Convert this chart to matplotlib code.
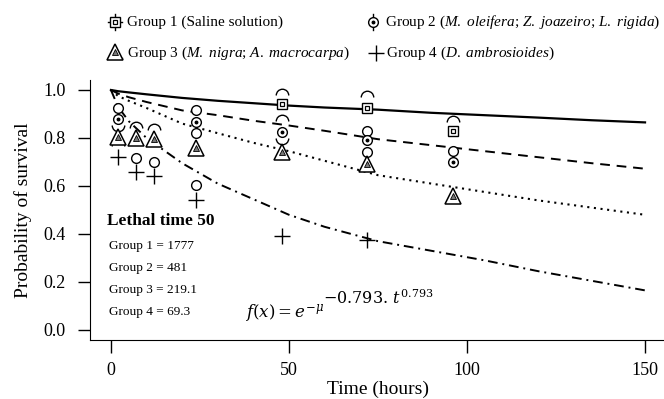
import matplotlib
matplotlib.use("Agg")
import matplotlib.pyplot as plt
from matplotlib.path import Path

plt.rcParams['font.family'] = 'serif'
plt.rcParams['font.serif'] = ['Liberation Serif', 'DejaVu Serif']
plt.rcParams['mathtext.fontset'] = 'custom'
plt.rcParams['mathtext.rm'] = 'Liberation Serif'
plt.rcParams['mathtext.it'] = 'Liberation Serif:italic'

# fitted survival curves
curve_t = [0, 2, 5, 10, 20, 30, 40, 50, 60, 75, 90, 105, 120, 135, 150]
curve_g1 = [1.0, 0.995, 0.99, 0.982, 0.967, 0.955, 0.945, 0.935, 0.927, 0.918, 0.905, 0.895, 0.885, 0.874, 0.865]
curve_g2 = [1.0, 0.985, 0.97, 0.95, 0.915, 0.895, 0.872, 0.852, 0.83, 0.795, 0.77, 0.745, 0.72, 0.695, 0.672]
curve_g3 = [1.0, 0.975, 0.955, 0.925, 0.86, 0.82, 0.78, 0.745, 0.705, 0.645, 0.61, 0.575, 0.54, 0.51, 0.48]
curve_g4 = [1.0, 0.93, 0.87, 0.80, 0.695, 0.61, 0.545, 0.48, 0.43, 0.37, 0.33, 0.29, 0.245, 0.205, 0.165]

# observed points
g1_t = [48, 72, 96]
g1_s = [0.94, 0.925, 0.83]
g2_t = [2, 24, 48, 72, 96]
g2_s = [0.88, 0.867, 0.825, 0.79, 0.70]
g3_t = [2, 7, 12, 24, 48, 72, 96]
g3_s = [0.805, 0.80, 0.795, 0.76, 0.74, 0.69, 0.56]
g4_t = [2, 7, 12, 24, 48, 72]
g4_s = [0.72, 0.66, 0.64, 0.54, 0.39, 0.375]

# extra open circles / half circles in the figure
circ_t = [2, 7, 12, 24, 24, 24, 72, 72, 96]
circ_s = [0.925, 0.715, 0.70, 0.915, 0.82, 0.605, 0.83, 0.74, 0.745]
top_arc_t = [2, 7, 12, 48, 48, 72, 96]
top_arc_s = [0.765, 0.84, 0.835, 0.98, 0.87, 0.97, 0.865]
bot_arc_t = [2, 48]
bot_arc_s = [0.855, 0.80]

lt50_labels = ['Group 1 = 1777', 'Group 2 = 481', 'Group 3 = 219.1', 'Group 4 = 69.3']
legend_labels = [
    'Group 1 (Saline solution)',
    r'Group 2 ($\mathit{M.\ oleifera}$; $\mathit{Z.\ joazeiro}$; $\mathit{L.\ rigida}$)',
    r'Group 3 ($\mathit{M.\ nigra}$; $\mathit{A.\ macrocarpa}$)',
    r'Group 4 ($\mathit{D.\ ambrosioides}$)',
]

top_arc = Path.arc(0, 180)
bot_arc = Path.arc(180, 360)


def draw_g1(ax, x, y):
    ax.plot(x, y, 's', ms=7, mfc='white', mec='black', mew=1, ls='none', zorder=4)
    ax.plot(x, y, 's', ms=2.5, mfc='none', mec='black', mew=0.9, ls='none', zorder=5)


def draw_g2(ax, x, y):
    ax.plot(x, y, 'o', ms=7, mfc='white', mec='black', mew=1, ls='none', zorder=4)
    ax.plot(x, y, 'o', ms=1.8, mfc='black', mec='black', ls='none', zorder=5)


def draw_g3(ax, x, y):
    ax.plot(x, y, '^', ms=11, mfc='white', mec='black', mew=1.1, ls='none', zorder=4)
    ax.plot(x, y, '^', ms=4, mfc='#777777', mec='black', mew=0.6, ls='none', zorder=5)


def draw_g4(ax, x, y):
    ax.plot(x, y, '+', ms=12, mec='black', mew=1, ls='none', zorder=4)


fig = plt.figure(figsize=(6.64, 3.99), dpi=100)
ax = fig.add_axes([0.1349, 0.1489, 0.8687, 0.6496])

ax.plot(curve_t, curve_g1, color='black', lw=1.6, ls='-')
ax.plot(curve_t, curve_g2, color='black', lw=1.4, ls=(0, (5, 3.5)))
ax.plot(curve_t, curve_g3, color='black', lw=1.5, ls=(0, (1, 2.2)))
ax.plot(curve_t, curve_g4, color='black', lw=1.4, ls=(0, (5, 2.5, 1, 2.5)))

ax.plot(circ_t, circ_s, 'o', ms=7, mfc='white', mec='black', mew=1, ls='none', zorder=3)
ax.plot(top_arc_t, top_arc_s, marker=top_arc, ms=9, mfc='none', mec='black', mew=1, ls='none', zorder=3)
ax.plot(bot_arc_t, bot_arc_s, marker=bot_arc, ms=9, mfc='none', mec='black', mew=1, ls='none', zorder=3)

draw_g1(ax, g1_t, g1_s)
draw_g2(ax, g2_t, g2_s)
draw_g3(ax, g3_t, g3_s)
draw_g4(ax, g4_t, g4_s)

ax.set_xlim(-6, 156)
ax.set_ylim(-0.04, 1.04)
ax.set_xticks([0, 50, 100, 150])
ax.set_yticks([0.0, 0.2, 0.4, 0.6, 0.8, 1.0])
ax.set_yticklabels(['0.0', '0.2', '0.4', '0.6', '0.8', '1.0'])
ax.spines['top'].set_visible(False)
ax.spines['right'].set_visible(False)
ax.tick_params(axis='both', direction='out', length=9, width=1, labelsize=13, pad=7)
ax.tick_params(axis='y', pad=8)
ax.set_xlabel('Time (hours)', fontsize=14, labelpad=1)
ax.set_ylabel('Probability of survival', fontsize=14, labelpad=8)

# lethal time box
ax.text(-1.1, 0.455, 'Lethal time 50', fontsize=12.5, fontweight='bold', va='center', ha='left')
for i, lab in enumerate(lt50_labels):
    ax.text(-0.6, 0.35 - i * 0.092, lab, fontsize=9.5, va='center', ha='left')

ax.text(37.6, 0.05, r'$f(x) = e^{-\mu}$', fontsize=12, math_fontfamily='dejavuserif',
        va='baseline', ha='left')
ax.text(59.5, 0.108, r'$-0.793.\,t^{0.793}$', fontsize=11.5, math_fontfamily='dejavuserif',
        va='baseline', ha='left')

# legend drawn in pixel coordinates of the figure
lg = fig.add_axes([0, 0, 1, 1], facecolor='none')
lg.set_xlim(0, 664)
lg.set_ylim(399, 0)
lg.axis('off')

lg.plot([108, 122], [22, 22], color='black', lw=1)
lg.plot([115, 115], [14, 30], color='black', lw=1)
draw_g1(lg, [115], [22])
lg.plot([373, 373], [14, 30], color='black', lw=1)
draw_g2(lg, [373], [22])
lg.plot([108, 122], [58, 58], color='black', lw=1)
draw_g3(lg, [115], [52])
draw_g4(lg, [376], [53])

lg.text(127, 22, legend_labels[0], fontsize=11, va='center', ha='left')
lg.text(385, 22, legend_labels[1], fontsize=11, va='center', ha='left')
lg.text(127, 53, legend_labels[2], fontsize=11, va='center', ha='left')
lg.text(386, 53, legend_labels[3], fontsize=11, va='center', ha='left')

fig.savefig('out.png', dpi=100)
